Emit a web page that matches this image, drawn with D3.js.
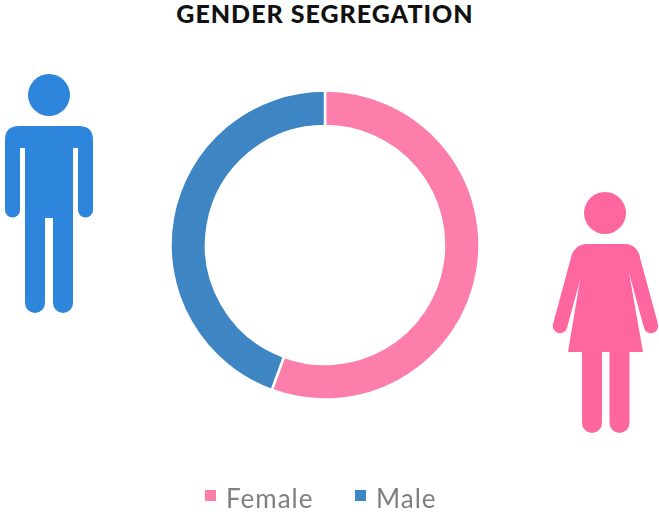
<!DOCTYPE html>
<html>
<head>
<meta charset="utf-8">
<script src="https://cdn.jsdelivr.net/npm/d3@7"></script>
<style>
    html, body { margin: 0; padding: 0; background: #fff; }
    svg { display: block; }
    .soft { filter: blur(0.6px); }
</style>
</head>
<body>
<div id="chart"></div>
<script>
const categories = ["Female", "Male"];
const values = [55.6, 44.4];
const colors = ["#fd7dab", "#3d85c3"];
const chartTitle = "GENDER SEGREGATION";

const dimensions = { width: 659, height: 515 };
const center = { x: 325, y: 245 };
const outerRadius = 154.5;
const innerRadius = 119;

const wrapper = d3.select("#chart").append("svg")
    .attr("width", dimensions.width)
    .attr("height", dimensions.height);

//TITLE
wrapper.append("text")
    .attr("x", 325)
    .attr("y", 22.5)
    .attr("text-anchor", "middle")
    .attr("font-family", "Lato")
    .attr("font-weight", 900)
    .attr("font-size", 25)
    .attr("letter-spacing", 1)
    .attr("fill", "#111")
    .text(chartTitle);

//DONUT
const pie = d3.pie().sort(null).value(d => d);
const arc = d3.arc().innerRadius(innerRadius).outerRadius(outerRadius);

wrapper.append("g")
    .attr("class", "soft")
    .attr("transform", `translate(${center.x}, ${center.y})`)
    .selectAll("path")
    .data(pie(values))
    .enter()
    .append("path")
    .attr("d", arc)
    .attr("fill", (d, i) => colors[i])
    .attr("stroke", "#fff")
    .attr("stroke-width", 2.5);

//LEGEND
const legendX = d3.scaleOrdinal().domain(categories).range([205, 355]);
const legend = wrapper.selectAll(".legendItem")
    .data(categories)
    .enter()
    .append("g")
    .attr("class", "legendItem soft")
    .attr("transform", d => `translate(${legendX(d)}, 490)`);

legend.append("rect")
    .attr("width", 11)
    .attr("height", 11)
    .attr("fill", (d, i) => colors[i]);

legend.append("text")
    .attr("x", 21)
    .attr("y", 18)
    .attr("font-family", "Lato")
    .attr("font-size", 26)
    .attr("letter-spacing", 1)
    .attr("fill", "#7f7f7f")
    .text(d => d);

//ICONS
const limb = (g, x1, y1, x2, y2, w, color) => g.append("line")
    .attr("x1", x1).attr("y1", y1).attr("x2", x2).attr("y2", y2)
    .attr("stroke", color)
    .attr("stroke-width", w)
    .attr("stroke-linecap", "round");

const line = d3.line();

//man
const manColor = "#2d86dc";
const man = wrapper.append("g").attr("class", "soft");
man.append("circle").attr("cx", 49).attr("cy", 95).attr("r", 21).attr("fill", manColor);
man.append("path")
    .attr("d", "M5,140 Q5,126 19,126 L79,126 Q93,126 93,140 L93,160 L5,160 Z")
    .attr("fill", manColor);
man.append("rect").attr("x", 25).attr("y", 130).attr("width", 48).attr("height", 88).attr("fill", manColor);
limb(man, 12.5, 145, 12.5, 210, 15, manColor);
limb(man, 85.5, 145, 85.5, 210, 15, manColor);
man.append("rect").attr("x", 20).attr("y", 148).attr("width", 5).attr("height", 70).attr("fill", "#fff");
man.append("rect").attr("x", 73).attr("y", 148).attr("width", 5).attr("height", 70).attr("fill", "#fff");
limb(man, 35, 215, 35, 303, 20, manColor);
limb(man, 63, 215, 63, 303, 20, manColor);

//woman
const womanColor = "#fd669f";
const woman = wrapper.append("g").attr("class", "soft");
woman.append("circle").attr("cx", 605).attr("cy", 213).attr("r", 21).attr("fill", womanColor);
woman.append("path")
    .attr("d", line([[585, 250], [625, 250], [643, 352], [568, 352]]))
    .attr("fill", womanColor);
woman.append("path")
    .attr("d", "M572,258 Q574,244 587,244 L625,244 Q637,244 640,258 L625,270 L585,270 Z")
    .attr("fill", womanColor);
limb(woman, 579, 256, 560, 326, 14.5, womanColor);
limb(woman, 632, 256, 651, 326, 14.5, womanColor);
limb(woman, 592, 345, 592, 423, 20, womanColor);
limb(woman, 619.5, 345, 619.5, 423, 20, womanColor);
</script>
</body>
</html>
